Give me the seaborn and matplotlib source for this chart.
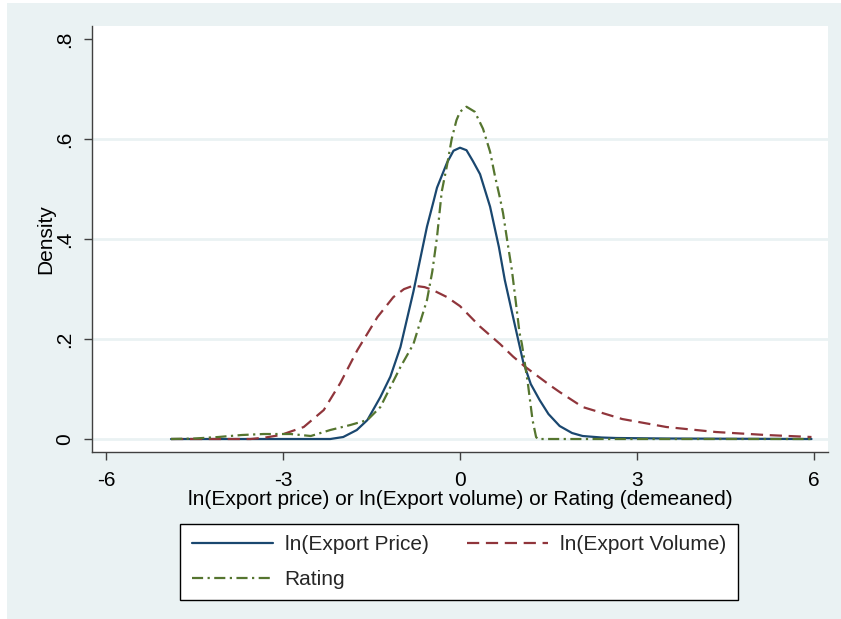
import matplotlib
matplotlib.use("Agg")
import matplotlib.pyplot as plt
import seaborn as sns
from matplotlib.patches import Rectangle

# Kernel density estimates (x = demeaned value, y = density)
price_x = [-4.9, -3.5, -2.6, -2.2, -1.98, -1.75, -1.57, -1.35, -1.18, -1.01, -0.79,
           -0.56, -0.45, -0.39, -0.22, -0.11, 0.0, 0.11, 0.22, 0.34, 0.45, 0.51, 0.66,
           0.76, 0.90, 1.07, 1.20, 1.35, 1.50, 1.69, 1.90, 2.08, 2.40, 2.65, 3.50, 5.96]
price_y = [0.0, 0.0, 0.0, 0.0, 0.004, 0.018, 0.038, 0.084, 0.125, 0.184, 0.295,
           0.425, 0.475, 0.503, 0.553, 0.577, 0.583, 0.578, 0.556, 0.530, 0.488, 0.465, 0.384,
           0.318, 0.244, 0.155, 0.110, 0.078, 0.050, 0.026, 0.012, 0.006, 0.003, 0.002, 0.001, 0.0]

volume_x = [-4.9, -4.6, -3.55, -3.3, -3.04, -2.65, -2.31, -2.03, -1.74, -1.40, -1.13,
            -0.95, -0.79, -0.60, -0.46, -0.22, 0.0, 0.34, 0.68, 0.90, 1.10, 1.52,
            1.69, 2.08, 2.75, 3.50, 4.34, 5.19, 5.96]
volume_y = [0.0, 0.0, 0.0, 0.003, 0.008, 0.024, 0.058, 0.112, 0.178, 0.244, 0.284,
            0.300, 0.307, 0.304, 0.298, 0.284, 0.266, 0.225, 0.190, 0.165, 0.145, 0.108,
            0.094, 0.064, 0.040, 0.024, 0.014, 0.008, 0.004]

rating_x = [-4.9, -4.5, -4.1, -3.7, -3.33, -2.87, -2.53, -2.2, -1.86, -1.57, -1.35,
            -1.01, -0.79, -0.56, -0.47, -0.39, -0.31, -0.22, -0.14, -0.06, 0.0, 0.11,
            0.25, 0.39, 0.51, 0.59, 0.68, 0.73, 0.81, 0.88, 0.93, 1.01, 1.05, 1.15,
            1.23, 1.29, 1.32, 5.96]
rating_y = [0.0, 0.001, 0.004, 0.008, 0.010, 0.010, 0.006, 0.018, 0.028, 0.038, 0.064,
            0.144, 0.190, 0.278, 0.335, 0.404, 0.495, 0.548, 0.601, 0.638, 0.655, 0.665,
            0.655, 0.621, 0.575, 0.528, 0.481, 0.452, 0.390, 0.338, 0.290, 0.212, 0.190, 0.112,
            0.038, 0.004, 0.0, 0.0]

x_ticks = [-6, -3, 0, 3, 6]
x_tick_labels = ["-6", "-3", "0", "3", "6"]
y_ticks = [0, 0.2, 0.4, 0.6, 0.8]
y_tick_labels = ["0", ".2", ".4", ".6", ".8"]

NAVY = "#1a476f"
MAROON = "#90353b"
GREEN = "#55752f"
BG = "#eaf2f3"
FS = 15

sns.set_theme(style="ticks")
plt.rcParams["font.family"] = ["Liberation Sans", "DejaVu Sans"]

fig = plt.figure(figsize=(8.41, 6.19), dpi=100, facecolor=BG)
W, H = 841, 619
# thin white margin along top and left edges
fig.patches.append(Rectangle((0, 1 - 3 / H), 1, 3 / H, transform=fig.transFigure,
                             facecolor="white", edgecolor="none", zorder=0))
fig.patches.append(Rectangle((0, 0), 7 / W, 1, transform=fig.transFigure,
                             facecolor="white", edgecolor="none", zorder=0))

ax = fig.add_axes([92 / W, 1 - 452 / H, (828 - 92) / W, (452 - 26) / H])
ax.set_facecolor("white")

sns.lineplot(x=price_x, y=price_y, sort=False, estimator=None, ax=ax,
             color=NAVY, lw=1.6, label="ln(Export Price)")
price_line = ax.lines[-1]
sns.lineplot(x=volume_x, y=volume_y, sort=False, estimator=None, ax=ax,
             color=MAROON, lw=1.6, label="ln(Export Volume)")
volume_line = ax.lines[-1]
volume_line.set_dashes((5.5, 3.0))
sns.lineplot(x=rating_x, y=rating_y, sort=False, estimator=None, ax=ax,
             color=GREEN, lw=1.6, label="Rating")
rating_line = ax.lines[-1]
rating_line.set_dashes((5.0, 2.0, 1.0, 2.0))
for ln in (price_line, volume_line, rating_line):
    ln.set_solid_joinstyle("round")
    ln.set_dash_joinstyle("round")

ax.set_xlim(-6.24, 6.24)
ax.set_ylim(-0.026, 0.8266)
ax.set_xticks(x_ticks)
ax.set_xticklabels(x_tick_labels)
ax.set_yticks(y_ticks)
ax.set_yticklabels(y_tick_labels, rotation=90, va="center")

ax.yaxis.grid(True, color=BG, lw=2.0)
ax.get_ygridlines()[-1].set_visible(False)
ax.set_axisbelow(True)

for side in ("top", "right"):
    ax.spines[side].set_visible(False)
for side in ("left", "bottom"):
    ax.spines[side].set_color("#404040")
    ax.spines[side].set_linewidth(1.0)

ax.tick_params(axis="both", direction="out", length=6, width=1.0, color="#404040",
               labelsize=FS, labelcolor="black")
ax.tick_params(axis="x", pad=8)
ax.tick_params(axis="y", pad=7)

ax.set_xlabel("ln(Export price) or ln(Export volume) or Rating (demeaned)",
              fontsize=FS, labelpad=0, color="black")
ax.set_ylabel("Density", fontsize=FS, labelpad=0, color="black")

handles = [price_line, rating_line, volume_line]
labels = ["ln(Export Price)", "Rating", "ln(Export Volume)"]
ax.legend_.remove()
leg = fig.legend(handles, labels, ncol=2, loc="center",
                 bbox_to_anchor=(459 / W, 1 - 562 / H), bbox_transform=fig.transFigure,
                 fontsize=FS, frameon=True, fancybox=False, framealpha=1,
                 edgecolor="black", facecolor="white", handlelength=3.9,
                 handletextpad=0.55, columnspacing=1.85, borderpad=0.55,
                 labelspacing=0.75)
leg.get_frame().set_linewidth(1.0)

fig.savefig("out.png", dpi=100, facecolor=fig.get_facecolor())
